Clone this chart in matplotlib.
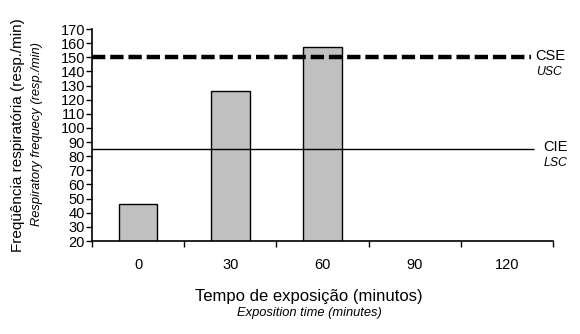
import matplotlib.pyplot as plt
import numpy as np

plt.rcParams['font.family'] = ['Liberation Sans', 'DejaVu Sans']

# data
categories = ['0', '30', '60', '90', '120']
values = [46, 126, 157.5, 0, 0]
cse_level = 150   # upper limit (CSE / USC)
cie_level = 85    # lower limit (CIE / LSC)
y_ticks = list(range(20, 171, 10))

fig = plt.figure(figsize=(5.8, 3.34), dpi=100)
ax = fig.add_axes([0.1586, 0.2784, 0.7948, 0.6346])

x = np.arange(len(categories))
ax.bar(x, values, width=0.42, color='#c0c0c0', edgecolor='black', linewidth=1, zorder=2)

# limit lines
ax.hlines(cse_level, -0.5, 4.26, colors='black', linestyles=(0, (3, 1.1)), linewidth=3.2, zorder=3)
ax.hlines(cie_level, -0.5, 4.29, colors='black', linewidth=1, zorder=3)
ax.text(4.31, cse_level + 1, 'CSE', fontsize=10.5, va='center', ha='left')
ax.text(4.32, cse_level - 10.5, 'USC', fontsize=8.8, style='italic', va='center', ha='left')
ax.text(4.39, cie_level + 1.5, 'CIE', fontsize=10.5, va='center', ha='left')
ax.text(4.4, cie_level - 9.5, 'LSC', fontsize=8.8, style='italic', va='center', ha='left')

ax.set_xlim(-0.5, 4.5)
ax.set_ylim(20, 170)
ax.set_yticks(y_ticks)
ax.tick_params(axis='y', labelsize=10.5, length=4, width=1, pad=1)

# category labels centred, tick marks at the boundaries
ax.set_xticks(np.arange(-0.5, 5.0, 1.0))
ax.set_xticklabels([])
ax.set_xticks(x, minor=True)
ax.set_xticklabels(categories, minor=True, fontsize=10.5)
ax.tick_params(axis='x', which='major', length=4, width=1)
ax.tick_params(axis='x', which='minor', length=0, pad=12)

for s in ['top', 'right']:
    ax.spines[s].set_visible(False)
for s in ['left', 'bottom']:
    ax.spines[s].set_linewidth(1.2)

fig.text(0.031, 0.595, 'Freqüência respiratória (resp./min)', rotation=90,
         fontsize=11, ha='center', va='center')
fig.text(0.064, 0.6, 'Respiratory frequecy (resp./min)', rotation=90,
         fontsize=9.3, style='italic', ha='center', va='center')
fig.text(0.533, 0.113, 'Tempo de exposição (minutos)', fontsize=12, ha='center', va='center')
fig.text(0.533, 0.063, 'Exposition time (minutes)', fontsize=9.3, style='italic',
         ha='center', va='center')

fig.savefig('out.png', dpi=100)
